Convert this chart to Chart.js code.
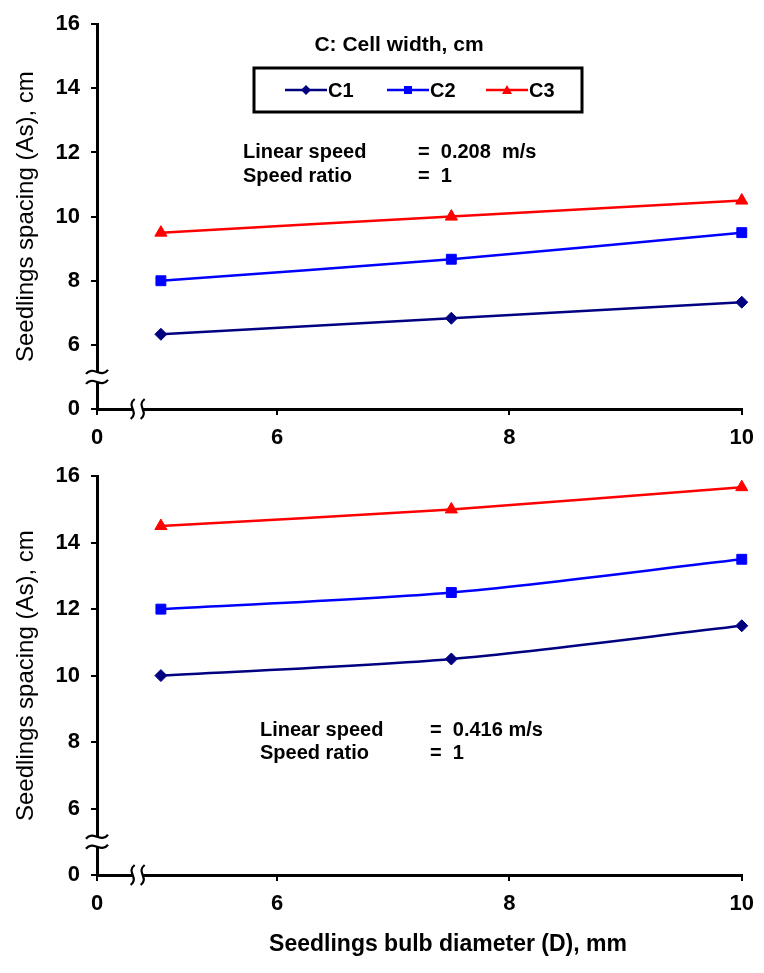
<!DOCTYPE html>
<html>
<head>
<meta charset="utf-8">
<script src="https://cdn.jsdelivr.net/npm/chart.js@4/dist/chart.umd.min.js"></script>
<style>
  html, body { margin: 0; padding: 0; background: #fff; }
  #wrap { position: relative; width: 764px; height: 973px; }
  .painel { position: absolute; left: 0; width: 764px; }
</style>
</head>
<body>
<div id="wrap">
  <div class="painel" style="top:0;height:452px"><canvas id="cTop"></canvas></div>
  <div class="painel" style="top:452px;height:521px"><canvas id="cBot"></canvas></div>
</div>
<script>
// ─── Dados ──────────────────────────────────────────
const diametros = [5, 7.5, 10];          // mm
const xTicks    = [6, 8, 10];
const yTicks    = [6, 8, 10, 12, 14, 16];
const X_QUEBRA  = 4.45;                  // início do eixo x (rotulado "0")
const Y_QUEBRA  = 4;                     // início do eixo y (rotulado "0")

// velocidade 0.208 m/s
const c1Lento = [6.33, 6.83, 7.33];
const c2Lento = [8.0, 8.67, 9.5];
const c3Lento = [9.5, 10.0, 10.5];
// velocidade 0.416 m/s
const c1Rapido = [10.0, 10.5, 11.5];
const c2Rapido = [12.0, 12.5, 13.5];
const c3Rapido = [14.5, 15.0, 15.67];

const series = ['C1', 'C2', 'C3'];

// ─── Estilos ────────────────────────────────────────
const CORES   = { C1: '#000080', C2: '#0000FF', C3: '#FF0000' };
const PONTOS  = { C1: 'rectRot', C2: 'rect', C3: 'triangle' };
const RAIOS   = { C1: 6, C2: 7, C3: 7 };
const FONTE   = "'Liberation Sans', Arial, sans-serif";

function montaDatasets(valores) {
  return series.map((nome, i) => ({
    label: nome,
    data: diametros.map((d, j) => ({ x: d, y: valores[i][j] })),
    borderColor: CORES[nome],
    backgroundColor: CORES[nome],
    borderWidth: 2.5,
    pointStyle: PONTOS[nome],
    pointRadius: RAIOS[nome],
    pointBorderWidth: 1,
    tension: 0.3,
    clip: false,
  }));
}

// ─── Plugin: quebras de eixo, textos e legenda ──────
const decoracao = {
  id: 'decoracao',
  afterDraw(chart, args, opts) {
    const { ctx } = chart;
    const xs = chart.scales.x, ys = chart.scales.y;
    const x0 = xs.left, y0 = ys.bottom;
    ctx.save();

    // quebra no eixo y
    const yb = ys.getPixelForValue(5);
    ctx.fillStyle = '#fff';
    ctx.fillRect(x0 - 4, yb - 5, 8, 10);
    ctx.strokeStyle = '#000';
    ctx.lineWidth = 2.2;
    [yb - 5, yb + 5].forEach(yy => {
      ctx.beginPath();
      ctx.moveTo(x0 - 11, yy + 2);
      ctx.bezierCurveTo(x0 - 4, yy - 7, x0 + 4, yy + 7, x0 + 11, yy - 2);
      ctx.stroke();
    });

    // quebra no eixo x
    const xb = xs.getPixelForValue(4.8);
    ctx.fillStyle = '#fff';
    ctx.fillRect(xb - 5, y0 - 4, 10, 8);
    [xb - 5, xb + 5].forEach(xx => {
      ctx.beginPath();
      ctx.moveTo(xx + 2, y0 - 10);
      ctx.bezierCurveTo(xx - 7, y0 - 3, xx + 7, y0 + 3, xx - 2, y0 + 10);
      ctx.stroke();
    });

    // textos de condição
    ctx.fillStyle = '#000';
    ctx.textBaseline = 'middle';
    ctx.textAlign = 'left';
    ctx.font = 'bold 20px ' + FONTE;
    (opts.textos || []).forEach(t => ctx.fillText(t.txt, t.x, t.y));

    // legenda
    if (opts.legenda) {
      const L = opts.legenda;
      ctx.font = 'bold 21px ' + FONTE;
      ctx.textAlign = 'center';
      ctx.fillText('C: Cell width, cm', L.tituloX, L.tituloY);
      ctx.lineWidth = 3;
      ctx.strokeStyle = '#000';
      ctx.strokeRect(L.x, L.y, L.w, L.h);
      ctx.textAlign = 'left';
      ctx.font = 'bold 20px ' + FONTE;
      const yc = L.y + L.h / 2;
      chart.data.datasets.forEach((ds, i) => {
        const lx = L.itens[i];
        ctx.strokeStyle = ds.borderColor;
        ctx.lineWidth = 2.5;
        ctx.beginPath();
        ctx.moveTo(lx, yc);
        ctx.lineTo(lx + 42, yc);
        ctx.stroke();
        marcador(ctx, ds.pointStyle, lx + 21, yc, ds.borderColor);
        ctx.fillStyle = '#000';
        ctx.fillText(ds.label, lx + 43, yc + 1);
      });
    }

    // título do eixo x
    if (opts.tituloX) {
      ctx.font = 'bold 23px ' + FONTE;
      ctx.textAlign = 'center';
      ctx.fillStyle = '#000';
      ctx.fillText('Seedlings bulb diameter (D), mm', opts.tituloX.x, opts.tituloX.y);
    }
    ctx.restore();
  }
};

function marcador(ctx, tipo, x, y, cor) {
  ctx.fillStyle = cor;
  ctx.beginPath();
  if (tipo === 'rectRot') {
    ctx.moveTo(x - 5, y); ctx.lineTo(x, y - 5); ctx.lineTo(x + 5, y); ctx.lineTo(x, y + 5);
  } else if (tipo === 'rect') {
    ctx.rect(x - 4, y - 4, 8, 8);
  } else {
    ctx.moveTo(x, y - 5); ctx.lineTo(x + 5, y + 4); ctx.lineTo(x - 5, y + 4);
  }
  ctx.closePath();
  ctx.fill();
}

function opcoesEixos(alturaX) {
  const eixo = {
    border: { display: true, color: '#000', width: 3 },
    grid: { display: true, drawOnChartArea: false, drawTicks: true, tickLength: 6, color: '#000', lineWidth: 2 },
  };
  return {
    x: {
      ...eixo,
      type: 'linear',
      min: X_QUEBRA, max: 10,
      afterBuildTicks: s => { s.ticks = [X_QUEBRA, ...xTicks].map(v => ({ value: v })); },
      afterFit: s => { s.height = alturaX; },
      ticks: {
        color: '#000', padding: 10, maxRotation: 0,
        font: { family: FONTE, size: 22, weight: 'bold' },
        callback: v => (v === X_QUEBRA ? '0' : v),
      },
    },
    y: {
      ...eixo,
      min: Y_QUEBRA, max: 16,
      afterBuildTicks: s => { s.ticks = [Y_QUEBRA, ...yTicks].map(v => ({ value: v })); },
      afterFit: s => { s.width = 97; },
      ticks: {
        color: '#000', padding: 11,
        font: { family: FONTE, size: 22, weight: 'bold' },
        callback: v => (v === Y_QUEBRA ? '0' : v),
      },
      title: {
        display: true, text: 'Seedlings spacing (As), cm', color: '#000',
        padding: { top: 12, bottom: 0 },
        font: { family: FONTE, size: 24, weight: 'normal' },
      },
    },
  };
}

Chart.defaults.animation = false;
Chart.defaults.responsive = true;
Chart.defaults.maintainAspectRatio = false;

new Chart(document.getElementById('cTop'), {
  type: 'line',
  data: { datasets: montaDatasets([c1Lento, c2Lento, c3Lento]) },
  plugins: [decoracao],
  options: {
    layout: { padding: { top: 17, right: 19, left: 0, bottom: 0 } },
    scales: opcoesEixos(43),
    plugins: {
      legend: { display: false },
      tooltip: { enabled: false },
      decoracao: {
        textos: [
          { txt: 'Linear speed', x: 243, y: 152 },
          { txt: '=  0.208  m/s', x: 418, y: 152 },
          { txt: 'Speed ratio', x: 243, y: 176 },
          { txt: '=  1', x: 418, y: 176 },
        ],
        legenda: { tituloX: 399, tituloY: 45, x: 254, y: 68, w: 328, h: 44, itens: [285, 387, 486] },
      },
    },
  },
});

new Chart(document.getElementById('cBot'), {
  type: 'line',
  data: { datasets: montaDatasets([c1Rapido, c2Rapido, c3Rapido]) },
  plugins: [decoracao],
  options: {
    layout: { padding: { top: 12, right: 16, left: 0, bottom: 0 } },
    scales: opcoesEixos(98),
    plugins: {
      legend: { display: false },
      tooltip: { enabled: false },
      decoracao: {
        textos: [
          { txt: 'Linear speed', x: 260, y: 278 },
          { txt: '=  0.416 m/s', x: 430, y: 278 },
          { txt: 'Speed ratio', x: 260, y: 301 },
          { txt: '=  1', x: 430, y: 301 },
        ],
        tituloX: { x: 448, y: 493 },
      },
    },
  },
});
</script>
</body>
</html>
